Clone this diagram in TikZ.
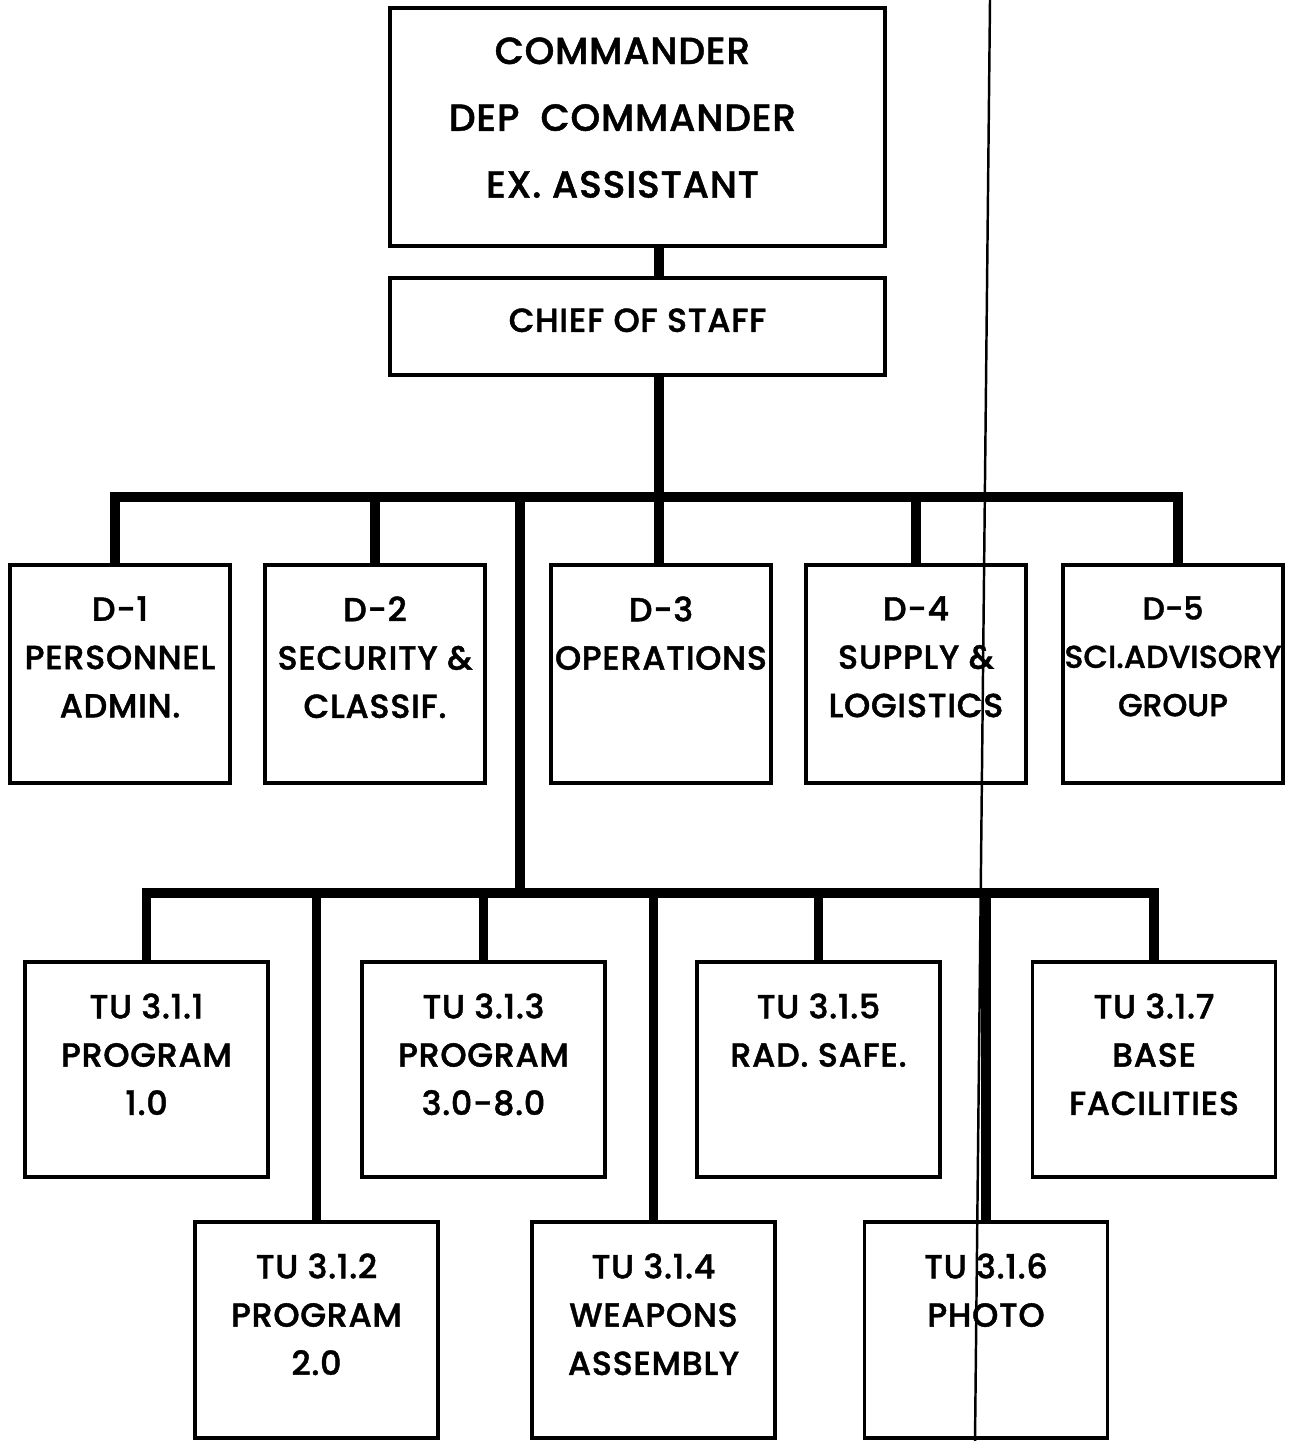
\documentclass[tikz,border=0pt]{standalone}
\usepackage{fontspec}
\setmainfont{Poppins Medium}[LetterSpace=2, FakeBold=1.2]
\usetikzlibrary{positioning}
\tikzset{
  every picture/.style={line join=miter},
  unit/.style={draw, line width=2.2pt, inner sep=0pt},
  cmdbox/.style={unit, minimum width=9.9cm},
  dbox/.style={unit, minimum width=4.4cm, minimum height=4.36cm},
  tubox/.style={unit, minimum width=4.86cm, minimum height=4.3cm},
  txt/.style={align=center, inner sep=0pt, font=\fontsize{19}{27.5}\selectfont},
  link/.style={line width=5.5pt},
  scan/.style={line width=1.4pt},
}

\begin{document}
\begin{tikzpicture}
  \useasboundingbox (0,0) rectangle (25.92,-28.82);
  \coordinate (spine) at (13.18,0);
  \coordinate (split) at (10.4,0);
  \coordinate (bar1) at (0,-9.94);
  \coordinate (bar2) at (0,-17.86);

  \node[cmdbox, minimum height=4.76cm] (cmd) at (12.75,-2.54) {};
  \node[cmdbox, minimum height=1.94cm] (cos) at (12.75,-6.53) {};
  \node[txt, font=\fontsize{21.5}{38}\selectfont, below=0.62cm of cmd.north, xshift=-0.3cm] (cmdtxt) {COMMANDER\\DEP\ \ COMMANDER\\EX. ASSISTANT};
  \node[txt, below=0.64cm of cos.north] (costxt) {CHIEF OF STAFF};

  \node[dbox] (d1) at (2.4,-13.48) {};
  \node[dbox] (d2) at (7.5,-13.48) {};
  \node[dbox] (d3) at (13.22,-13.48) {};
  \node[dbox] (d4) at (18.32,-13.48) {};
  \node[dbox] (d5) at (23.46,-13.48) {};
  \node[txt, below=0.66cm of d1.north] (d1txt) {D-1\\PERSONNEL\\ADMIN.};
  \node[txt, below=0.66cm of d2.north] (d2txt) {D-2\\SECURITY \&\\CLASSIF.};
  \node[txt, below=0.66cm of d3.north] (d3txt) {D-3\\OPERATIONS};
  \node[txt, below=0.66cm of d4.north] (d4txt) {D-4\\SUPPLY \&\\LOGISTICS};
  \node[txt, below=0.66cm of d5.north, font=\fontsize{18}{27.5}\selectfont\addfontfeatures{LetterSpace=0}] (d5txt) {D-5\\SCI.ADVISORY\\GROUP};

  \node[tubox] (t1) at (2.93,-21.39) {};
  \node[tubox] (t3) at (9.67,-21.39) {};
  \node[tubox] (t5) at (16.37,-21.39) {};
  \node[tubox] (t7) at (23.08,-21.39) {};
  \node[tubox, minimum height=4.32cm] (t2) at (6.33,-26.6) {};
  \node[tubox, minimum height=4.32cm] (t4) at (13.07,-26.6) {};
  \node[tubox, minimum height=4.32cm] (t6) at (19.72,-26.6) {};
  \node[txt, below=0.66cm of t1.north] (t1txt) {TU 3.1.1\\PROGRAM\\1.0};
  \node[txt, below=0.66cm of t2.north] (t2txt) {TU 3.1.2\\PROGRAM\\2.0};
  \node[txt, below=0.66cm of t3.north] (t3txt) {TU 3.1.3\\PROGRAM\\3.0-8.0};
  \node[txt, below=0.66cm of t4.north] (t4txt) {TU 3.1.4\\WEAPONS\\ASSEMBLY};
  \node[txt, below=0.66cm of t5.north] (t5txt) {TU 3.1.5\\RAD. SAFE.};
  \node[txt, below=0.66cm of t6.north] (t6txt) {TU 3.1.6\\PHOTO};
  \node[txt, below=0.66cm of t7.north] (t7txt) {TU 3.1.7\\BASE\\FACILITIES};

  \draw[link] (cmd.south -| spine) -- (cos.north -| spine);
  \draw[link] (cos.south -| spine) -- (spine |- d3.north);
  \draw[link] ([xshift=-0.1cm]d1.north) |- ([xshift=0.1cm]bar1 -| d5.north) -- ([xshift=0.1cm]d5.north);
  \draw[link] (d2.north) -- (d2.north |- bar1);
  \draw[link] (d4.north) -- (d4.north |- bar1);
  \draw[link] (split |- bar1) -- (split |- bar2);
  \draw[link] (t1.north) |- (bar2 -| t7.north) -- (t7.north);
  \draw[link] (t2.north) -- (t2.north |- bar2);
  \draw[link] (t3.north) -- (t3.north |- bar2);
  \draw[link] (t4.north) -- (t4.north |- bar2);
  \draw[link] (t5.north) -- (t5.north |- bar2);
  \draw[link] (t6.north) -- (t6.north |- bar2);

  \draw[scan] (19.8,0) -- (19.5,-28.82);
\end{tikzpicture}
\end{document}
